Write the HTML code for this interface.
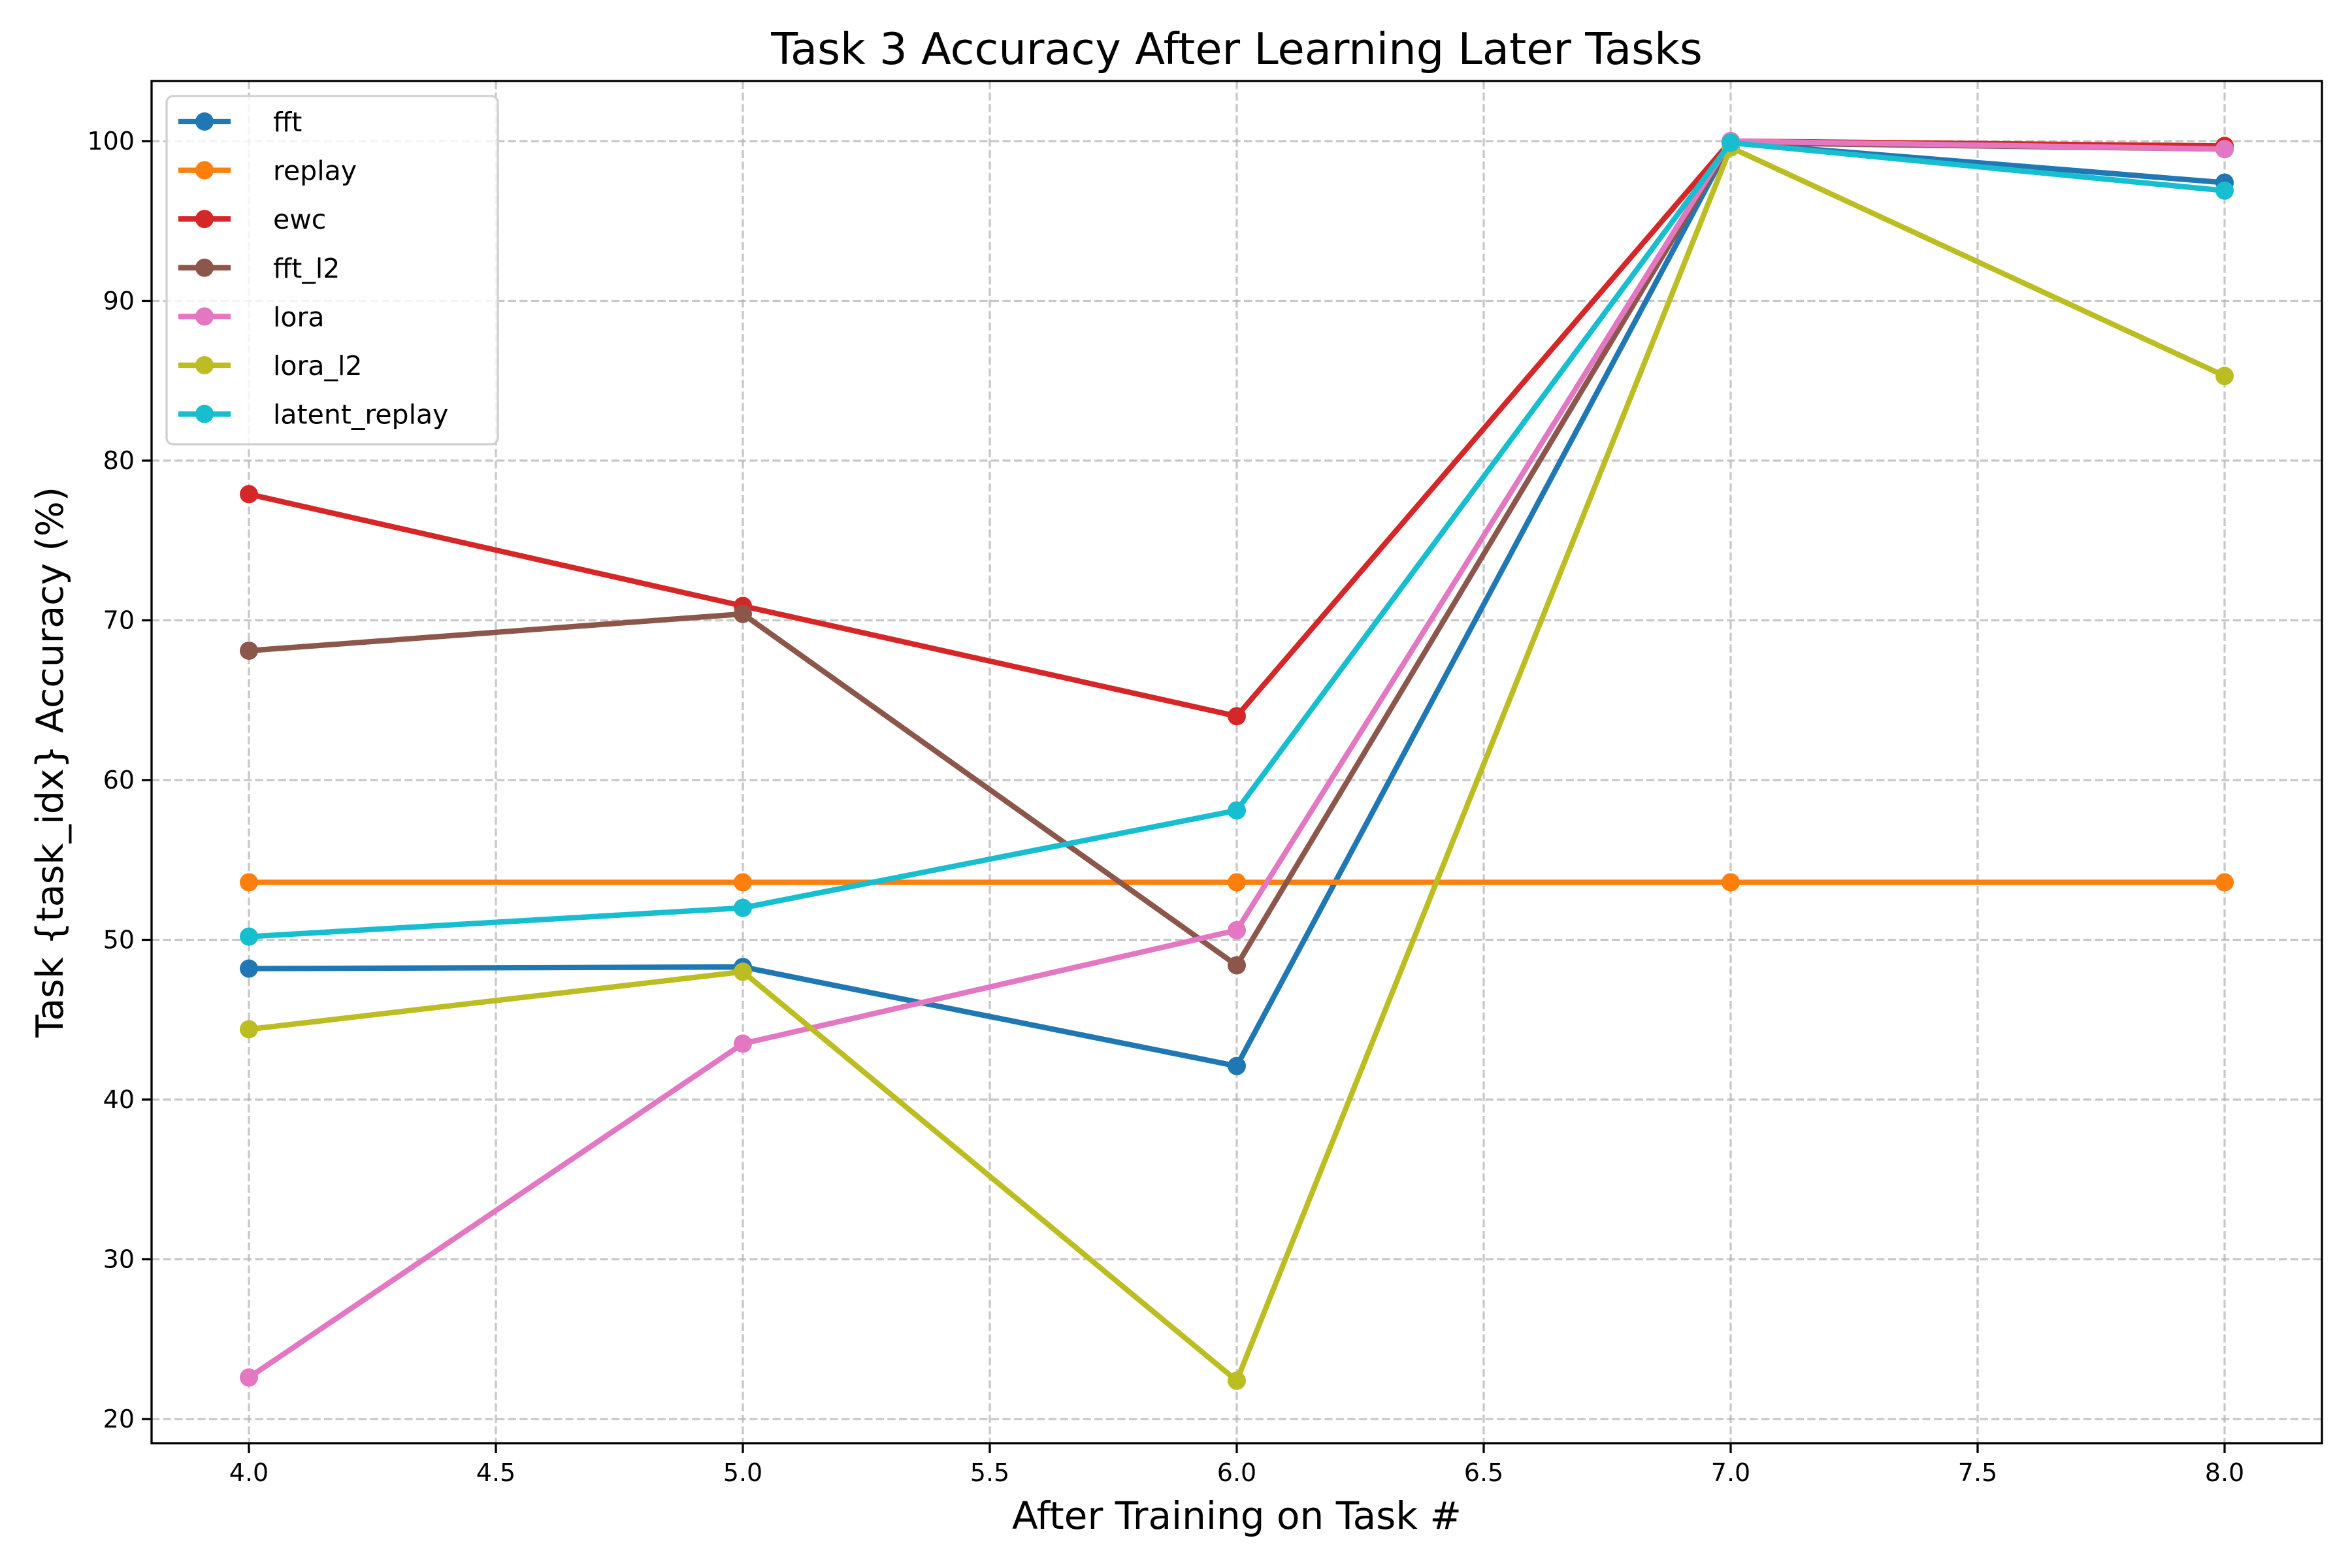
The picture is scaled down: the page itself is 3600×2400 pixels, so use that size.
<!DOCTYPE html>
<html><head><meta charset="utf-8"><style>
html,body{margin:0;padding:0;background:#fff;}
svg{display:block;font-family:"DejaVu Sans","Liberation Sans",sans-serif;}
</style></head><body>
<svg id="chart" width="3600" height="2400" viewBox="0 0 3600 2400" xmlns="http://www.w3.org/2000/svg">
<rect x="0" y="0" width="3600" height="2400" fill="#fff"/>
<g id="grid"></g>
<g id="axes"></g>
<g id="series"></g>
<g id="legend"></g>
</svg>
<script>
const xValues = [4, 5, 6, 7, 8];
const xTicks = [4.0, 4.5, 5.0, 5.5, 6.0, 6.5, 7.0, 7.5, 8.0];
const yTicks = [20, 30, 40, 50, 60, 70, 80, 90, 100];
const seriesNames = ["fft","replay","ewc","fft_l2","lora","lora_l2","latent_replay"];
const seriesColors = ["#1f77b4","#ff7f0e","#d62728","#8c564b","#e377c2","#bcbd22","#17becf"];
const fft = [48.2, 48.3, 42.1, 99.9, 97.4];
const replay = [53.6, 53.6, 53.6, 53.6, 53.6];
const ewc = [77.9, 70.9, 64.0, 100.0, 99.7];
const fft_l2 = [68.1, 70.4, 48.4, 99.9, 99.5];
const lora = [22.6, 43.5, 50.6, 100.0, 99.5];
const lora_l2 = [44.4, 48.0, 22.4, 99.6, 85.3];
const latent_replay = [50.2, 52.0, 58.1, 99.9, 96.9];
const seriesValues = [fft, replay, ewc, fft_l2, lora, lora_l2, latent_replay];

const NS = "http://www.w3.org/2000/svg";
const L = 232, R = 3554, T = 124, B = 2209;
function xs(v){ return 381 + (v - 4) * (3405 - 381) / 4; }
function ys(v){ return 216 + (100 - v) * (2172 - 216) / 80; }
function mk(tag, attrs, parent){ const e = document.createElementNS(NS, tag); for (const k in attrs) e.setAttribute(k, attrs[k]); parent.appendChild(e); return e; }

const grid = document.getElementById('grid');
const axes = document.getElementById('axes');
xTicks.forEach(t => {
  const x = xs(t);
  const g = mk('line', {x1:x, x2:x, y1:T, y2:B, stroke:'#b0b0b0', 'stroke-opacity':0.7, 'stroke-width':3.3, 'stroke-dasharray':'12.3,5.3'}, grid);
  
  
  mk('line', {x1:x, x2:x, y1:B, y2:B+15, stroke:'#000', 'stroke-width':3.3}, axes);
  const tx = mk('text', {x:x, y:B+58, 'font-size':38, 'text-anchor':'middle', fill:'#000'}, axes);
  tx.textContent = t.toFixed(1);
  
  
});
yTicks.forEach(t => {
  const y = ys(t);
  const g = mk('line', {x1:L, x2:R, y1:y, y2:y, stroke:'#b0b0b0', 'stroke-opacity':0.7, 'stroke-width':3.3, 'stroke-dasharray':'12.3,5.3'}, grid);
  
  
  mk('line', {x1:L-15, x2:L, y1:y, y2:y, stroke:'#000', 'stroke-width':3.3}, axes);
  const tx = mk('text', {x:L-26, y:y+13, 'font-size':38, 'text-anchor':'end', fill:'#000'}, axes);
  tx.textContent = String(t);
  
  
});
const frame = mk('rect', {x:L, y:T, width:R-L, height:B-T, fill:'none', stroke:'#000', 'stroke-width':3.3}, axes);


const title = mk('text', {x:(L+R)/2, y:98, 'font-size':67, 'text-anchor':'middle', fill:'#000'}, axes);
title.textContent = 'Task 3 Accuracy After Learning Later Tasks';


const xl = mk('text', {x:(L+R)/2, y:2340, 'font-size':58, 'text-anchor':'middle', fill:'#000'}, axes);
xl.textContent = 'After Training on Task #';


const yl = mk('text', {x:0, y:0, 'font-size':57, 'text-anchor':'middle', fill:'#000', transform:'translate(96,' + ((T+B)/2) + ') rotate(-90)'}, axes);
yl.textContent = 'Task {task_idx} Accuracy (%)';



const series = document.getElementById('series');
seriesValues.forEach((vals, i) => {
  const g = mk('g', {}, series);
  
  
  const pts = vals.map((v, j) => xs(xValues[j]) + ',' + ys(v)).join(' ');
  const pl = mk('polyline', {points:pts, fill:'none', stroke:seriesColors[i], 'stroke-width':8.3, 'stroke-linejoin':'round', 'stroke-linecap':'square'}, g);
  
  
  vals.forEach((v, j) => {
    const c = mk('circle', {cx:xs(xValues[j]), cy:ys(v), r:14, fill:seriesColors[i]}, g);
    
    
  });
});

const legend = document.getElementById('legend');
const box = mk('rect', {x:255, y:147, width:507, height:533, rx:10, fill:'#fff', 'fill-opacity':0.8, stroke:'#d0d0d0', 'stroke-width':3.3}, legend);


seriesNames.forEach((n, i) => {
  const y = 186 + i * 74.6;
  const g = mk('g', {}, legend);
  
  
  mk('line', {x1:273, x2:353, y1:y, y2:y, stroke:seriesColors[i], 'stroke-width':8.3}, g);
  mk('circle', {cx:313, cy:y, r:14, fill:seriesColors[i]}, g);
  const t = mk('text', {x:418, y:y+15, 'font-size':41, fill:'#000'}, g);
  t.textContent = n;
});
</script>
</body></html>
